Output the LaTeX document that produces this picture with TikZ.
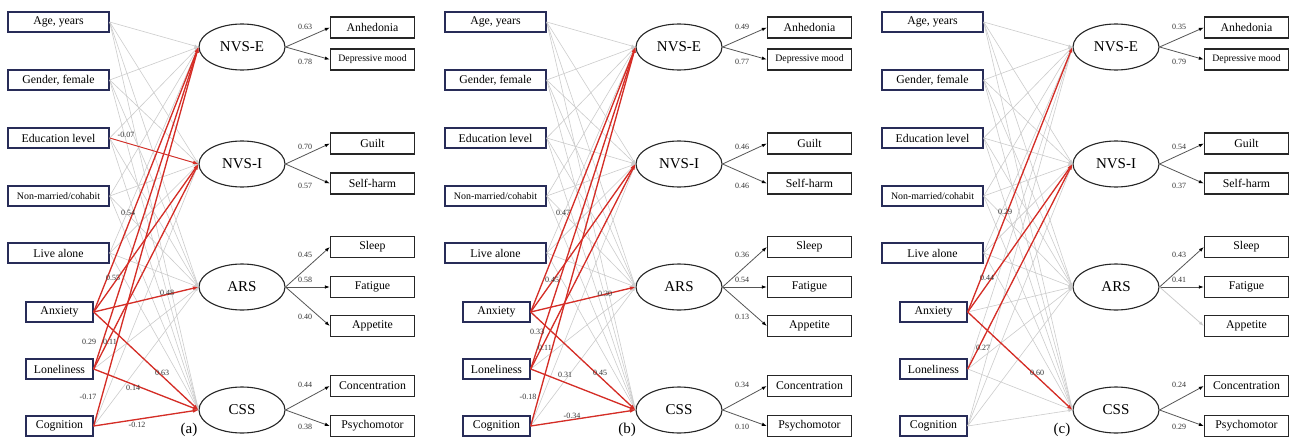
\documentclass[tikz,border=0pt]{standalone}
\usepackage{fontspec}
\setmainfont{Liberation Serif}
\usetikzlibrary{shapes.geometric,arrows.meta}
\definecolor{boxblue}{RGB}{40,44,88}
\definecolor{sigred}{RGB}{214,45,38}
\definecolor{nsgrey}{RGB}{204,204,204}
\definecolor{loadgrey}{RGB}{85,85,85}
\tikzset{
 lbox/.style={draw=boxblue, line width=1.4pt, minimum height=20pt, inner sep=0pt, font=\fontsize{11.8}{12}\selectfont},
 wbox/.style={lbox, minimum width=101pt},
 nbox/.style={lbox, minimum width=67pt},
 rbox/.style={draw=black!85, line width=1.3pt, minimum width=84pt, minimum height=21pt, inner sep=0pt, font=\fontsize{11.8}{12}\selectfont},
 lat/.style={ellipse, draw=black!85, line width=1.1pt, minimum width=86pt, minimum height=46pt, inner sep=0pt, font=\fontsize{15}{15}\selectfont},
 gline/.style={draw=nsgrey, line width=0.6pt, -{Latex[length=4pt,width=3pt]}},
 rline/.style={draw=sigred, line width=1.3pt, -{Latex[length=5.5pt,width=4pt]}},
 load/.style={draw=loadgrey, line width=0.8pt, -{Latex[length=5pt,width=3.5pt,color=black]}},
 gload/.style={draw=nsgrey, line width=0.8pt, -{Latex[length=5pt,width=3.5pt]}},
 coef/.style={font=\fontsize{8}{8}\selectfont, text=black!80, inner sep=0pt},
 plabel/.style={font=\fontsize{15}{15}\selectfont, inner sep=0pt}
}
\newcommand\mkpanel[1]{%
 \node[wbox] (#1age) at (58.5,22) {Age, years};
 \node[wbox] (#1gen) at (58.5,80) {Gender, female};
 \node[wbox] (#1edu) at (58.5,138) {Education level};
 \node[wbox, font=\fontsize{9.9}{10}\selectfont] (#1nmc) at (58.5,196) {Non-married/cohabit};
 \node[wbox] (#1liv) at (58.5,253) {Live alone};
 \node[nbox] (#1anx) at (59.5,312) {Anxiety};
 \node[nbox] (#1lon) at (59.5,369) {Loneliness};
 \node[nbox] (#1cog) at (59.5,426) {Cognition};
 \node[lat] (#1nvse) at (242,47) {NVS-E};
 \node[lat] (#1nvsi) at (242,164) {NVS-I};
 \node[lat] (#1ars) at (242,287) {ARS};
 \node[lat] (#1css) at (242,410) {CSS};
 \node[rbox] (#1anh) at (372.5,27.5) {Anhedonia};
 \node[rbox, font=\fontsize{9.8}{10}\selectfont] (#1dep) at (372.5,59.5) {Depressive mood};
 \node[rbox] (#1gui) at (372.5,143.5) {Guilt};
 \node[rbox] (#1slf) at (372.5,183.5) {Self-harm};
 \node[rbox] (#1slp) at (372.5,247) {Sleep};
 \node[rbox] (#1fat) at (372.5,287) {Fatigue};
 \node[rbox] (#1app) at (372.5,326) {Appetite};
 \node[rbox] (#1con) at (372.5,386) {Concentration};
 \node[rbox] (#1psy) at (372.5,426) {Psychomotor};
 \foreach \s in {age,gen,edu,nmc,liv,anx,lon,cog}{\foreach \t in {nvse,nvsi,ars,css}{\draw[gline] (#1\s.east) -- (#1\t.west);}}
}
\newcommand\rlab[9]{%
 \draw[load] (#1nvse.east) -- (#1anh.west);
 \draw[load] (#1nvse.east) -- (#1dep.west);
 \draw[load] (#1nvsi.east) -- (#1gui.west);
 \draw[load] (#1nvsi.east) -- (#1slf.west);
 \draw[load] (#1ars.east) -- (#1slp.west);
 \draw[load] (#1ars.east) -- (#1fat.west);
 \draw[load] (#1css.east) -- (#1con.west);
 \draw[load] (#1css.east) -- (#1psy.west);
 \node[coef] (#1q1) at (305,27) {#2};
 \node[coef] (#1q2) at (305,62) {#3};
 \node[coef] (#1q3) at (305,147) {#4};
 \node[coef] (#1q4) at (305,186) {#5};
 \node[coef] (#1q5) at (305,255) {#6};
 \node[coef] (#1q6) at (305,280) {#7};
 \node[coef] (#1q8) at (305,385) {#8};
 \node[coef] (#1q9) at (305,427) {#9};
}
\begin{document}
\begin{tikzpicture}[x=1pt,y=-1pt]
\fill[white] (0,0) rectangle (1292,439);
\useasboundingbox (0,0) rectangle (1292,439);
% ---------------- panel (a)
\begin{scope}
\mkpanel{a}
\rlab{a}{0.63}{0.78}{0.70}{0.57}{0.45}{0.58}{0.44}{0.38}
\draw[load] (aars.east) -- (aapp.west);
\node[coef] (aq7) at (305,317) {0.40};
\draw[rline, line width=0.9pt] (aedu.east) -- (anvsi.west);
\draw[rline] (aanx.east) -- (anvse.west);
\draw[rline] (aanx.east) -- (anvsi.west);
\draw[rline] (aanx.east) -- (aars.west);
\draw[rline] (aanx.east) -- (acss.west);
\draw[rline] (alon.east) -- (anvse.west);
\draw[rline] (alon.east) -- (anvsi.west);
\draw[rline] (alon.east) -- (acss.west);
\draw[rline] (acog.east) -- (anvse.west);
\draw[rline] (acog.east) -- (acss.west);
\node[coef] (ac1) at (126,135) {-0.07};
\node[coef] (ac2) at (128,213) {0.54};
\node[coef] (ac3) at (113,278) {0.55};
\node[coef] (ac4) at (167,293) {0.48};
\node[coef] (ac5) at (89,342) {0.29};
\node[coef] (ac6) at (110,342) {0.11};
\node[coef] (ac7) at (162,373) {0.63};
\node[coef] (ac8) at (133,388) {0.14};
\node[coef] (ac9) at (88,397) {-0.17};
\node[coef] (ac10) at (137,425) {-0.12};
\node[plabel] (alab) at (189,430) {(a)};
\end{scope}
% ---------------- panel (b)
\begin{scope}[xshift=437pt]
\mkpanel{b}
\rlab{b}{0.49}{0.77}{0.46}{0.46}{0.36}{0.54}{0.34}{0.10}
\draw[load] (bars.east) -- (bapp.west);
\node[coef] (bq7) at (305,317) {0.13};
\draw[rline] (banx.east) -- (bnvse.west);
\draw[rline] (banx.east) -- (bnvsi.west);
\draw[rline] (banx.east) -- (bars.west);
\draw[rline] (banx.east) -- (bcss.west);
\draw[rline] (blon.east) -- (bnvse.west);
\draw[rline] (blon.east) -- (bnvsi.west);
\draw[rline] (blon.east) -- (bcss.west);
\draw[rline] (bcog.east) -- (bnvse.west);
\draw[rline] (bcog.east) -- (bcss.west);
\node[coef] (bc1) at (126,213) {0.47};
\node[coef] (bc2) at (115,280) {0.45};
\node[coef] (bc3) at (168,294) {0.30};
\node[coef] (bc4) at (100,332) {0.33};
\node[coef] (bc5) at (108,348) {0.11};
\node[coef] (bc6) at (128,375) {0.31};
\node[coef] (bc7) at (163,373) {0.45};
\node[coef] (bc8) at (91,397) {-0.18};
\node[coef] (bc9) at (135,416) {-0.34};
\node[plabel] (blab) at (190,430) {(b)};
\end{scope}
% ---------------- panel (c)
\begin{scope}[xshift=874pt]
\mkpanel{c}
\rlab{c}{0.35}{0.79}{0.54}{0.37}{0.43}{0.41}{0.24}{0.29}
\draw[gload] (cars.east) -- (capp.west);
\draw[rline] (canx.east) -- (cnvse.west);
\draw[rline] (canx.east) -- (cnvsi.west);
\draw[rline] (canx.east) -- (ccss.west);
\draw[rline] (clon.east) -- (cnvsi.west);
\node[coef] (cc1) at (131,212) {0.29};
\node[coef] (cc2) at (113,278) {0.44};
\node[coef] (cc3) at (109,348) {0.27};
\node[coef] (cc4) at (163,373) {0.60};
\node[plabel] (clab) at (188,430) {(c)};
\end{scope}
\end{tikzpicture}
\end{document}
